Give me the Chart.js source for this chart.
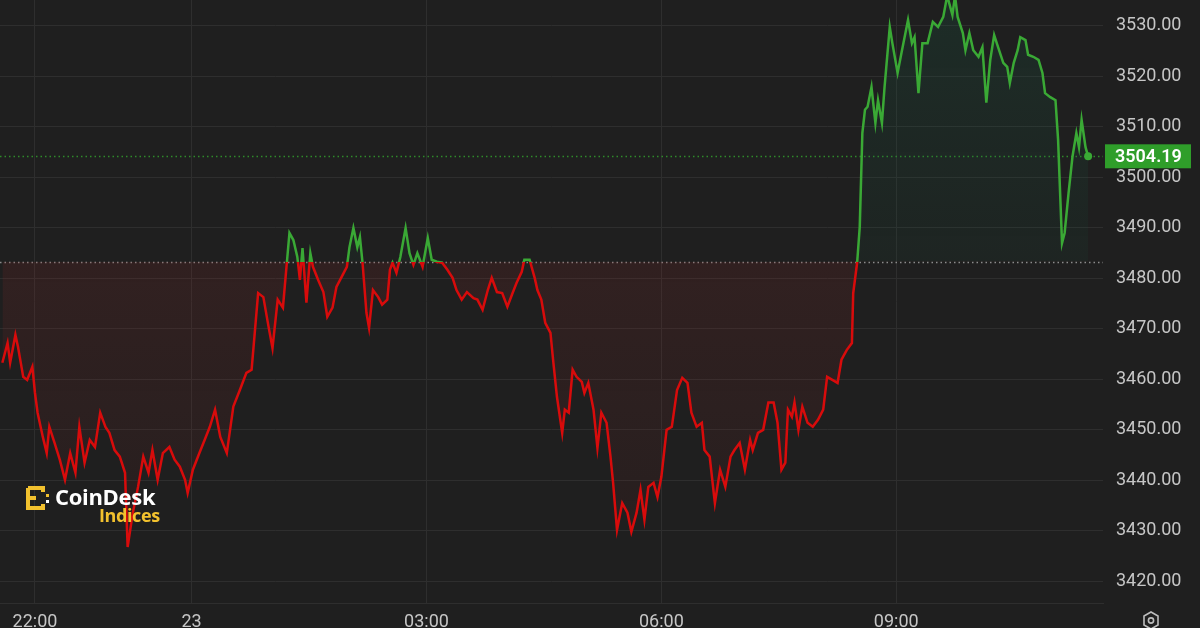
<!DOCTYPE html>
<html>
<head>
<meta charset="utf-8">
<script src="https://cdn.jsdelivr.net/npm/chart.js@4.4.1/dist/chart.umd.min.js"></script>
<style>
  html, body { margin: 0; padding: 0; background: #1f1f1f; overflow: hidden; }
  #wrap { position: relative; width: 1200px; height: 628px; overflow: hidden; background: #1f1f1f; }
  #chart { position: absolute; left: 0; top: 0; }
  .logo { position: absolute; left: 26px; top: 484px; font-family: "Open Sans", Roboto, sans-serif; font-weight: 700; }
  .logo svg { position: absolute; left: 0; top: 2px; }
  .logo .name { position: absolute; left: 29px; top: -3px; color: #ffffff; font-size: 22px; letter-spacing: -0.3px; white-space: nowrap; }
  .logo .sub { position: absolute; left: 73px; top: 19px; color: #f2c12e; font-size: 18px; letter-spacing: -0.4px; white-space: nowrap; }
  .gear { position: absolute; left: 1142px; top: 611px; }
</style>
</head>
<body>
<div id="wrap">
  <canvas id="chart" width="1200" height="640" style="width:1200px;height:640px"></canvas>
  <div class="logo">
    <svg width="26" height="24" viewBox="0 0 26 24">
      <path d="M2 2 H17 V6 M2 2 V22 H17 V18 M2 12 H10" stroke="#f2c12e" stroke-width="4" fill="none"/>
      <rect x="20" y="8" width="3" height="3" fill="#f2c12e"/>
      <rect x="20" y="14" width="3" height="3" fill="#ffffff"/>
    </svg>
    <span class="name">CoinDesk</span>
    <span class="sub">Indices</span>
  </div>
  <svg class="gear" width="18" height="20" viewBox="0 0 18 20">
    <path d="M9 1 L16 5 L16 14 L9 18 L2 14 L2 5 Z" stroke="#bdbdbd" stroke-width="1.6" fill="none"/>
    <circle cx="9" cy="9.5" r="2.6" stroke="#bdbdbd" stroke-width="1.6" fill="none"/>
  </svg>
</div>
<script>
// minutes after 22:00 (negative = before 22:00)
var minutes = [
  -25, -21, -19, -15, -13, -9, -6, -2, 0, 2, 6, 9, 11, 15, 19, 23, 27, 31, 34, 38,
  42, 46, 50, 54, 57, 61, 65, 69, 71, 75, 79, 83, 87, 90, 94, 98, 103, 107, 111, 115,
  117, 121, 126, 130, 134, 138, 142, 147, 152, 157, 162, 166, 171, 175, 179, 182, 186, 190, 193, 195,
  198, 201, 203, 205, 208, 211, 213, 217, 221, 224, 228, 231, 235, 239, 241, 244, 247, 249, 251, 254,
  256, 259, 263, 266, 270, 272, 274, 277, 280, 284, 287, 290, 293, 297, 301, 304, 308, 312, 316, 320,
  323, 327, 331, 336, 339, 343, 347, 350, 354, 358, 362, 366, 369, 373, 375, 379, 383, 385, 388, 391,
  395, 397, 400, 404, 406, 409, 412, 415, 419, 421, 424, 428, 431, 434, 438, 441, 443, 446, 450, 454,
  457, 461, 464, 467, 470, 474, 477, 480, 484, 488, 492, 496, 500, 503, 507, 511, 513, 517, 521, 525,
  529, 533, 536, 540, 544, 548, 550, 554, 558, 562, 566, 569, 572, 575, 577, 580, 582, 585, 588, 592,
  596, 600, 604, 607, 611, 615, 618, 622, 626, 627, 630, 632, 634, 636, 638, 641, 644, 646, 649, 651,
  655, 657, 661, 664, 669, 672, 674, 677, 680, 684, 688, 692, 696, 699, 703, 705, 707, 711, 713, 716,
  719, 723, 726, 729, 732, 735, 738, 742, 745, 747, 750, 753, 755, 759, 761, 765, 769, 772, 774, 778,
  782, 784, 787, 789, 792, 795, 798, 800, 802, 805, 807
];
var prices = [
  3463.3, 3467.2, 3463.3, 3468.8, 3466.4, 3460.5, 3459.9, 3462.5, 3457.3, 3453.4, 3448.6, 3445.4, 3450.6, 3447.4, 3444.1, 3440.1, 3445.4, 3441.5, 3450.6, 3443.5,
  3448.0, 3446.6, 3453.4, 3450.6, 3449.4, 3446.0, 3444.7, 3441.5, 3426.8, 3433.6, 3438.7, 3444.7, 3441.5, 3446.0, 3440.1, 3445.4, 3446.6, 3444.1, 3442.7, 3440.1,
  3437.5, 3442.1, 3445.4, 3448.0, 3450.6, 3454.0, 3448.6, 3445.4, 3454.6, 3457.9, 3461.3, 3461.9, 3477.1, 3476.3, 3470.4, 3466.2, 3475.8, 3474.2, 3483.1, 3489.0,
  3487.6, 3484.3, 3479.7, 3486.0, 3475.2, 3485.0, 3482.3, 3479.7, 3477.3, 3472.4, 3474.2, 3478.3, 3480.3, 3482.3, 3486.2, 3490.0, 3486.2, 3488.2, 3483.1, 3473.2,
  3470.2, 3477.7, 3476.3, 3474.8, 3475.8, 3481.7, 3483.1, 3481.1, 3484.3, 3490.0, 3485.0, 3482.7, 3485.0, 3482.3, 3488.0, 3483.7, 3483.3, 3483.1, 3481.7, 3480.1,
  3477.7, 3475.8, 3477.3, 3476.1, 3475.8, 3473.8, 3477.7, 3480.1, 3477.3, 3477.1, 3474.4, 3477.1, 3479.1, 3481.3, 3483.7, 3483.7, 3480.0, 3477.7, 3475.8, 3471.2,
  3469.2, 3463.9, 3456.5, 3449.4, 3454.0, 3453.4, 3461.9, 3460.5, 3459.5, 3457.3, 3459.3, 3454.0, 3446.4, 3453.4, 3451.4, 3444.7, 3439.5, 3430.2, 3435.5, 3433.6,
  3429.8, 3433.6, 3438.1, 3432.2, 3438.7, 3439.5, 3436.7, 3440.7, 3450.0, 3450.6, 3457.9, 3460.3, 3459.3, 3453.4, 3450.6, 3451.4, 3446.0, 3444.7, 3435.5, 3442.1,
  3438.7, 3444.7, 3446.0, 3447.4, 3442.1, 3448.0, 3446.0, 3449.4, 3450.0, 3455.4, 3455.4, 3451.4, 3442.1, 3443.5, 3454.0, 3452.6, 3455.4, 3450.0, 3454.6, 3451.4,
  3450.6, 3452.0, 3454.0, 3460.5, 3459.9, 3459.3, 3463.9, 3465.8, 3467.2, 3477.1, 3483.1, 3490.2, 3508.8, 3513.4, 3514.0, 3517.9, 3510.8, 3515.3, 3510.8, 3517.9,
  3529.8, 3526.6, 3520.7, 3524.7, 3531.2, 3526.6, 3527.8, 3516.7, 3526.6, 3526.6, 3530.8, 3529.8, 3531.8, 3536.0, 3532.2, 3536.0, 3531.8, 3528.6, 3525.2, 3528.6,
  3525.2, 3523.9, 3525.8, 3514.8, 3523.3, 3528.2, 3525.8, 3522.7, 3521.9, 3518.7, 3522.7, 3525.2, 3527.8, 3527.2, 3524.3, 3523.9, 3523.3, 3520.7, 3516.7, 3515.9,
  3515.3, 3507.4, 3487.0, 3489.0, 3496.9, 3504.1, 3508.8, 3506.0, 3511.4, 3506.0, 3504.19
];
var baseline = 3483.3;

var xTickMinutes = [0, 120, 300, 480, 660];
var xTickLabels = ['22:00', '23', '03:00', '06:00', '09:00'];
var yTicks = [3420, 3430, 3440, 3450, 3460, 3470, 3480, 3490, 3500, 3510, 3520, 3530];

var lineRed = '#d80b0b';
var lineGreen = '#3aa935';
var tickColor = '#c6c6c6';
var gridColor = '#2e2e2e';
var tickFont = { family: 'Roboto, "Noto Sans", sans-serif', size: 18 };

var lastPrice = prices[prices.length - 1];

var splitColor = function(context) {
  var chart = context.chart;
  var area = chart.chartArea;
  if (!area) return lineGreen;
  var yb = chart.scales.y.getPixelForValue(baseline);
  var stop = Math.min(Math.max((yb - area.top) / (area.bottom - area.top), 0), 1);
  var g = chart.ctx.createLinearGradient(0, area.top, 0, area.bottom);
  g.addColorStop(0, lineGreen);
  g.addColorStop(stop, lineGreen);
  g.addColorStop(stop, lineRed);
  g.addColorStop(1, lineRed);
  return g;
};

var noPadding = function(s) {
  s.paddingTop = 0; s.paddingBottom = 0; s.paddingLeft = 0; s.paddingRight = 0;
};

var refLines = {
  id: 'refLines',
  beforeDatasetsDraw: function(chart) {
    var ctx = chart.ctx, area = chart.chartArea, y = chart.scales.y;
    ctx.save();
    ctx.lineWidth = 1.5;
    ctx.setLineDash([1.5, 3]);
    var yb = Math.round(y.getPixelForValue(baseline)) + 0.5;
    ctx.strokeStyle = '#8c8c8c';
    ctx.beginPath(); ctx.moveTo(area.left, yb); ctx.lineTo(area.right, yb); ctx.stroke();
    var yl = Math.round(y.getPixelForValue(lastPrice)) + 0.5;
    ctx.strokeStyle = '#2f8a2b';
    ctx.beginPath(); ctx.moveTo(area.left, yl); ctx.lineTo(area.right, yl); ctx.stroke();
    ctx.restore();
  },
  afterDraw: function(chart) {
    var ctx = chart.ctx, area = chart.chartArea, y = chart.scales.y;
    var yl = y.getPixelForValue(lastPrice);
    ctx.save();
    ctx.fillStyle = lastPrice >= baseline ? '#2f9e2a' : '#c81010';
    ctx.fillRect(area.right + 2, yl - 12, 86, 24);
    ctx.fillStyle = '#ffffff';
    ctx.font = '600 18px Roboto, "Noto Sans", sans-serif';
    ctx.textBaseline = 'middle';
    ctx.textAlign = 'left';
    ctx.fillText(lastPrice.toFixed(2), area.right + 12, yl + 1);
    ctx.restore();
  }
};

var canvas = document.getElementById('chart');
var chart = new Chart(canvas.getContext('2d'), {
  type: 'line',
  data: {
    datasets: [{
      data: minutes.map(function(m, i) { return { x: m, y: prices[i] }; }),
      borderColor: splitColor,
      borderWidth: 2.5,
      tension: 0,
      pointRadius: function(c) { return c.dataIndex === prices.length - 1 ? 4 : 0; },
      pointBackgroundColor: lineGreen,
      pointBorderWidth: 0,
      fill: { target: { value: baseline }, above: 'rgba(25,90,70,0.18)', below: 'rgba(120,40,40,0.16)' }
    }]
  },
  options: {
    responsive: false,
    animation: false,
    layout: { padding: 0, autoPadding: false },
    plugins: { legend: { display: false }, tooltip: { enabled: false } },
    scales: {
      x: {
        type: 'linear',
        min: -26.8,
        max: 818.4,
        grid: { color: gridColor, drawTicks: false },
        border: { display: true, color: gridColor },
        ticks: {
          color: tickColor, font: tickFont, padding: 9, maxRotation: 0, autoSkip: false,
          callback: function(v) { var i = xTickMinutes.indexOf(v); return i >= 0 ? xTickLabels[i] : ''; }
        },
        afterBuildTicks: function(s) { s.ticks = xTickMinutes.map(function(v) { return { value: v }; }); },
        afterFit: function(s) { s.height = 37; noPadding(s); }
      },
      y: {
        position: 'right',
        min: 3415.7,
        max: 3535.15,
        grid: { color: gridColor, drawTicks: false },
        border: { display: false },
        ticks: {
          color: tickColor, font: tickFont, padding: 13,
          callback: function(v) { return v.toFixed(2); }
        },
        afterBuildTicks: function(s) { s.ticks = yTicks.map(function(v) { return { value: v }; }); },
        afterFit: function(s) { s.width = 97; noPadding(s); }
      }
    }
  },
  plugins: [refLines]
});

// fill gradients, built once the scales are known
var area = chart.chartArea;
var yb = chart.scales.y.getPixelForValue(baseline);
var gAbove = chart.ctx.createLinearGradient(0, area.top, 0, yb);
gAbove.addColorStop(0, 'rgba(25,95,70,0.22)');
gAbove.addColorStop(1, 'rgba(25,80,60,0.12)');
var gBelow = chart.ctx.createLinearGradient(0, yb, 0, area.bottom);
gBelow.addColorStop(0, 'rgba(125,40,40,0.20)');
gBelow.addColorStop(1, 'rgba(100,35,35,0.10)');
chart.data.datasets[0].fill = { target: { value: baseline }, above: gAbove, below: gBelow };
chart.update('none');
</script>
</body>
</html>
